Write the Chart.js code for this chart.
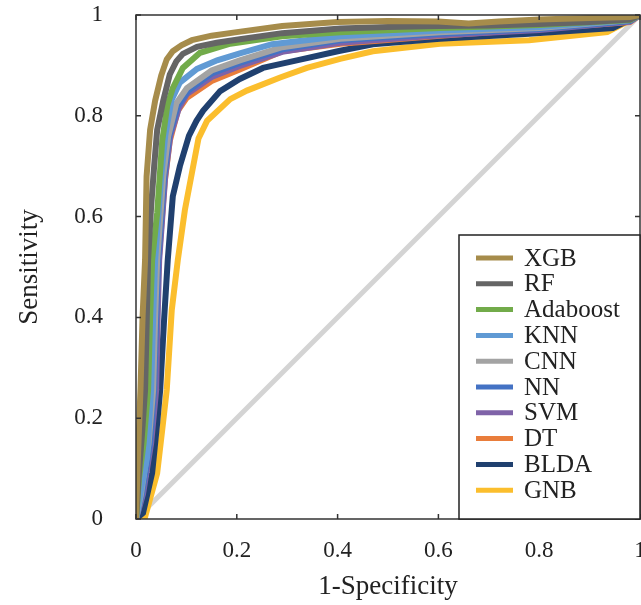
<!DOCTYPE html>
<html>
<head>
<meta charset="utf-8">
<script src="https://cdn.jsdelivr.net/npm/chart.js@4.4.0/dist/chart.umd.min.js"></script>
<style>
  body { margin: 0; background: #fff; }
  #wrap { width: 641px; height: 605px; }
</style>
</head>
<body>
<div id="wrap"><canvas id="rocChart" width="641" height="605"></canvas></div>
<script>
const models = ["XGB", "RF", "Adaboost", "KNN", "CNN", "NN", "SVM", "DT", "BLDA", "GNB"];
const axisTicks = [0, 0.2, 0.4, 0.6, 0.8, 1];

// ROC points (1-specificity, sensitivity)
const xgbFpr = [0, 0.003, 0.006, 0.009, 0.013, 0.018, 0.021, 0.028, 0.038, 0.05, 0.061, 0.073, 0.09, 0.111, 0.15, 0.2, 0.29, 0.4, 0.5, 0.6, 0.66, 0.72, 0.8, 0.9, 0.98, 1];
const xgbTpr = [0, 0.1, 0.18, 0.26, 0.4, 0.514, 0.68, 0.772, 0.83, 0.88, 0.912, 0.928, 0.94, 0.95, 0.959, 0.966, 0.978, 0.986, 0.988, 0.987, 0.983, 0.987, 0.991, 0.994, 0.996, 1];
const rfFpr = [0, 0.005, 0.012, 0.018, 0.021, 0.024, 0.03, 0.036, 0.042, 0.054, 0.067, 0.08, 0.093, 0.121, 0.16, 0.206, 0.29, 0.405, 0.5, 0.6, 0.7, 0.8, 0.9, 0.98, 1];
const rfTpr = [0, 0.08, 0.17, 0.256, 0.38, 0.514, 0.62, 0.7, 0.772, 0.83, 0.882, 0.908, 0.923, 0.937, 0.945, 0.952, 0.964, 0.973, 0.976, 0.978, 0.979, 0.982, 0.986, 0.991, 1];
const adaFpr = [0, 0.006, 0.015, 0.024, 0.028, 0.032, 0.042, 0.052, 0.062, 0.073, 0.093, 0.127, 0.187, 0.29, 0.405, 0.603, 0.8, 0.98, 1];
const adaTpr = [0, 0.08, 0.15, 0.256, 0.4, 0.514, 0.607, 0.75, 0.82, 0.855, 0.895, 0.925, 0.943, 0.958, 0.966, 0.974, 0.98, 0.99, 1];
const knnFpr = [0, 0.012, 0.022, 0.03, 0.034, 0.038, 0.05, 0.058, 0.07, 0.087, 0.121, 0.161, 0.206, 0.27, 0.405, 0.603, 0.8, 0.98, 1];
const knnTpr = [0, 0.07, 0.123, 0.256, 0.4, 0.514, 0.68, 0.76, 0.83, 0.866, 0.893, 0.91, 0.924, 0.942, 0.958, 0.969, 0.976, 0.99, 1];
const cnnFpr = [0, 0.01, 0.025, 0.034, 0.038, 0.042, 0.054, 0.064, 0.08, 0.101, 0.15, 0.206, 0.29, 0.405, 0.603, 0.8, 0.98, 1];
const cnnTpr = [0, 0.05, 0.15, 0.256, 0.4, 0.514, 0.68, 0.76, 0.825, 0.855, 0.89, 0.91, 0.936, 0.953, 0.966, 0.974, 0.99, 1];
const nnFpr = [0, 0.012, 0.028, 0.036, 0.04, 0.044, 0.056, 0.066, 0.083, 0.104, 0.15, 0.206, 0.29, 0.405, 0.603, 0.8, 0.98, 1];
const nnTpr = [0, 0.05, 0.15, 0.256, 0.4, 0.514, 0.68, 0.76, 0.82, 0.85, 0.884, 0.905, 0.932, 0.95, 0.963, 0.972, 0.988, 1];
const svmFpr = [0, 0.014, 0.03, 0.04, 0.043, 0.046, 0.058, 0.068, 0.085, 0.101, 0.15, 0.206, 0.29, 0.405, 0.603, 0.8, 0.98, 1];
const svmTpr = [0, 0.05, 0.15, 0.256, 0.4, 0.514, 0.68, 0.76, 0.815, 0.843, 0.877, 0.899, 0.927, 0.945, 0.96, 0.97, 0.987, 1];
const dtFpr = [0, 0.012, 0.024, 0.036, 0.041, 0.045, 0.057, 0.067, 0.083, 0.101, 0.15, 0.206, 0.29, 0.405, 0.603, 0.78, 0.98, 1];
const dtTpr = [0, 0.06, 0.157, 0.256, 0.4, 0.514, 0.67, 0.75, 0.81, 0.836, 0.869, 0.892, 0.928, 0.943, 0.959, 0.971, 0.986, 1];
const bldaFpr = [0, 0.014, 0.032, 0.042, 0.048, 0.056, 0.063, 0.073, 0.087, 0.105, 0.12, 0.133, 0.167, 0.206, 0.252, 0.319, 0.405, 0.47, 0.603, 0.78, 0.946, 1];
const bldaTpr = [0, 0.012, 0.091, 0.19, 0.256, 0.4, 0.514, 0.64, 0.7, 0.76, 0.79, 0.81, 0.849, 0.873, 0.895, 0.91, 0.929, 0.942, 0.953, 0.963, 0.974, 1];
const gnbFpr = [0, 0.018, 0.042, 0.052, 0.061, 0.071, 0.083, 0.097, 0.111, 0.124, 0.141, 0.187, 0.22, 0.286, 0.339, 0.405, 0.47, 0.603, 0.78, 0.935, 1];
const gnbTpr = [0, 0.004, 0.091, 0.177, 0.256, 0.415, 0.514, 0.613, 0.687, 0.755, 0.79, 0.833, 0.85, 0.876, 0.895, 0.913, 0.928, 0.943, 0.95, 0.966, 1];
const chanceFpr = [0, 1];
const chanceTpr = [0, 1];

const fprs = [xgbFpr, rfFpr, adaFpr, knnFpr, cnnFpr, nnFpr, svmFpr, dtFpr, bldaFpr, gnbFpr];
const tprs = [xgbTpr, rfTpr, adaTpr, knnTpr, cnnTpr, nnTpr, svmTpr, dtTpr, bldaTpr, gnbTpr];
const colors = ["#a68c4b", "#656565", "#72ab4a", "#609ad4", "#a3a3a3", "#4472c4", "#7f63a8", "#e97d3b", "#20406f", "#fbbe2d"];

const FONT = "'Liberation Serif', 'Times New Roman', serif";

function toPoints(xs, ys) {
  return xs.map((x, i) => ({ x: x, y: ys[i] }));
}

// 0, 0.2, ... 1 without trailing zeros
function tickText(v) {
  return String(Math.round(v * 10) / 10);
}

const datasets = models.map((m, i) => ({
  label: m,
  data: toPoints(fprs[i], tprs[i]),
  borderColor: colors[i],
  borderWidth: 6,
  pointRadius: 0,
  tension: 0,
  fill: false
}));
datasets.push({
  label: "chance",
  data: toPoints(chanceFpr, chanceTpr),
  borderColor: "#d4d4d4",
  borderWidth: 5,
  pointRadius: 0,
  fill: false
});

// frame, inward ticks on all sides, and the boxed legend
const framePlugin = {
  id: "frame",
  afterDraw(chart) {
    const { ctx, chartArea: a, scales } = chart;
    ctx.save();
    ctx.strokeStyle = "#333";
    ctx.lineWidth = 1.5;
    ctx.strokeRect(a.left, a.top, a.right - a.left, a.bottom - a.top);
    ctx.beginPath();
    axisTicks.forEach(v => {
      const px = scales.x.getPixelForValue(v);
      const py = scales.y.getPixelForValue(v);
      ctx.moveTo(px, a.bottom); ctx.lineTo(px, a.bottom - 5);
      ctx.moveTo(px, a.top); ctx.lineTo(px, a.top + 5);
      ctx.moveTo(a.left, py); ctx.lineTo(a.left + 5, py);
      ctx.moveTo(a.right, py); ctx.lineTo(a.right - 5, py);
    });
    ctx.stroke();

    // legend box
    const bx = 459, by = 235;
    ctx.fillStyle = "#fff";
    ctx.fillRect(bx, by, a.right - bx, a.bottom - by);
    ctx.strokeStyle = "#222";
    ctx.lineWidth = 1.5;
    ctx.strokeRect(bx, by, a.right - bx, a.bottom - by);
    ctx.font = "25px " + FONT;
    ctx.textBaseline = "middle";
    ctx.textAlign = "left";
    models.forEach((m, i) => {
      const y = 258 + i * 25.8;
      ctx.strokeStyle = colors[i];
      ctx.lineWidth = 5;
      ctx.beginPath();
      ctx.moveTo(476, y); ctx.lineTo(513, y);
      ctx.stroke();
      ctx.fillStyle = "#222";
      ctx.fillText(m, 524, y + 1);
    });
    ctx.restore();
  }
};

new Chart(document.getElementById("rocChart"), {
  type: "line",
  data: { datasets: datasets },
  options: {
    responsive: false,
    animation: false,
    layout: { padding: { left: 0, right: 1, top: 15, bottom: 0 } },
    plugins: { legend: { display: false }, tooltip: { enabled: false } },
    scales: {
      x: {
        type: "linear",
        min: 0, max: 1,
        grid: { display: false },
        border: { display: false },
        ticks: { stepSize: 0.2, padding: 10, color: "#222", font: { family: FONT, size: 23 }, callback: tickText },
        title: { display: true, text: "1-Specificity", color: "#222", padding: { top: 0, bottom: 2 }, font: { family: FONT, size: 27 } },
        afterFit(s) { s.height = 86; s.paddingLeft = 0; s.paddingRight = 0; }
      },
      y: {
        type: "linear",
        min: 0, max: 1,
        grid: { display: false },
        border: { display: false },
        ticks: { stepSize: 0.2, padding: 25, color: "#222", font: { family: FONT, size: 23 }, callback: tickText },
        title: { display: true, text: "Sensitivity", color: "#222", padding: { top: 14, bottom: 0 }, font: { family: FONT, size: 27 } },
        afterFit(s) { s.width = 136; s.paddingTop = 0; s.paddingBottom = 0; }
      }
    }
  },
  plugins: [framePlugin]
});
</script>
</body>
</html>
